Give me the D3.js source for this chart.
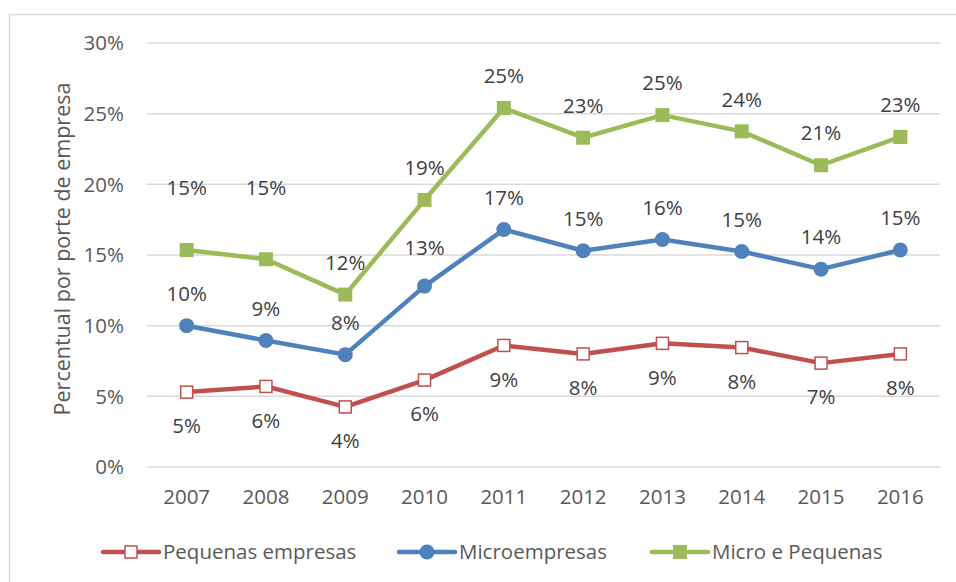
<!DOCTYPE html>
<html>
<head>
<meta charset="utf-8">
<script src="https://cdn.jsdelivr.net/npm/d3@7"></script>
<style>
  body { margin: 0; background: #fff; }
  text { font-family: "Open Sans", Lato, sans-serif; }
</style>
</head>
<body>
<div id="app"></div>
<script>
// years on the x axis
const years = ['2007', '2008', '2009', '2010', '2011', '2012', '2013', '2014', '2015', '2016']

// series values (percent)
const pequenas = [5.3, 5.7, 4.25, 6.15, 8.6, 8.0, 8.75, 8.45, 7.35, 8.0]
const micro = [10.0, 8.95, 7.95, 12.8, 16.8, 15.3, 16.1, 15.25, 14.0, 15.35]
const microPequenas = [15.35, 14.7, 12.2, 18.9, 25.4, 23.3, 24.9, 23.75, 21.35, 23.35]

// label text shown next to the points
const pequenasLabels = ['5%', '6%', '4%', '6%', '9%', '8%', '9%', '8%', '7%', '8%']
const microLabels = ['10%', '9%', '8%', '13%', '17%', '15%', '16%', '15%', '14%', '15%']
const microPequenasLabels = ['15%', '15%', '12%', '19%', '25%', '23%', '25%', '24%', '21%', '23%']

const yTicks = [0, 5, 10, 15, 20, 25, 30]

const seriesNames = ['Pequenas empresas', 'Microempresas', 'Micro e Pequenas']

function main() {
  const width = 956
  const height = 582
  const fs = 20.5

  const svg = d3.select('#app').append('svg')
    .attr('width', width)
    .attr('height', height)

  // chart frame (runs off the right and bottom edge)
  svg.append('rect')
    .attr('x', 9.5).attr('y', 14.5)
    .attr('width', 1000).attr('height', 1000)
    .attr('fill', 'none')
    .attr('stroke', '#d9d9d9')
    .attr('stroke-width', 1.5)

  const x = d3.scaleBand()
    .domain(years)
    .range([147, 940])

  const y = d3.scaleLinear()
    .domain([0, 30])
    .range([467, 43])

  // gridlines
  svg.append('g').selectAll('line').data(yTicks).join('line')
    .attr('x1', 147).attr('x2', 940)
    .attr('y1', (d) => y(d)).attr('y2', (d) => y(d))
    .attr('stroke', '#d9d9d9')
    .attr('stroke-width', 1.5)

  // y tick labels
  svg.append('g').selectAll('text').data(yTicks).join('text')
    .attr('x', 124)
    .attr('y', (d) => y(d))
    .attr('dy', '0.35em')
    .attr('text-anchor', 'end')
    .attr('font-size', fs)
    .attr('fill', '#595959')
    .text((d) => d + '%')

  // x tick labels
  svg.append('g').selectAll('text').data(years).join('text')
    .attr('x', (d) => x(d) + x.bandwidth() / 2)
    .attr('y', 497)
    .attr('dy', '0.35em')
    .attr('text-anchor', 'middle')
    .attr('font-size', fs)
    .attr('fill', '#595959')
    .text((d) => d)

  // y axis title
  svg.append('text')
    .attr('transform', 'translate(62,249) rotate(-90)')
    .attr('dy', '0.35em')
    .attr('text-anchor', 'middle')
    .attr('font-size', 21.5)
    .attr('fill', '#595959')
    .text('Percentual por porte de empresa')

  const cx = (i) => x(years[i]) + x.bandwidth() / 2
  const line = d3.line()
    .x((d, i) => cx(i))
    .y((d) => y(d))

  const series = [
    { name: seriesNames[0], values: pequenas, labels: pequenasLabels, color: '#c0504d', marker: 'hollow', labelDy: 34, moved: {} },
    { name: seriesNames[1], values: micro, labels: microLabels, color: '#4f81bd', marker: 'circle', labelDy: -32, moved: { 3: -38 } },
    { name: seriesNames[2], values: microPequenas, labels: microPequenasLabels, color: '#9bbb59', marker: 'square', labelDy: -32, moved: { 0: -62, 1: -71 } }
  ]

  function drawMarker(g, kind, color) {
    if (kind === 'circle') {
      g.append('circle').attr('r', 7.5).attr('fill', color)
    } else if (kind === 'square') {
      g.append('rect').attr('x', -7).attr('y', -7).attr('width', 14).attr('height', 14).attr('fill', color)
    } else {
      g.append('rect').attr('x', -6).attr('y', -6).attr('width', 12).attr('height', 12)
        .attr('fill', '#fff').attr('stroke', color).attr('stroke-width', 1.5)
    }
  }

  series.forEach((s) => {
    svg.append('path')
      .datum(s.values)
      .attr('d', line)
      .attr('fill', 'none')
      .attr('stroke', s.color)
      .attr('stroke-width', 4.5)
      .attr('stroke-linejoin', 'round')

    s.values.forEach((v, i) => {
      const g = svg.append('g').attr('transform', `translate(${cx(i)},${y(v)})`)
      drawMarker(g, s.marker, s.color)
    })

    svg.append('g').selectAll('text').data(s.values).join('text')
      .attr('x', (d, i) => cx(i))
      .attr('y', (d, i) => y(d) + (s.moved[i] !== undefined ? s.moved[i] : s.labelDy))
      .attr('dy', '0.35em')
      .attr('text-anchor', 'middle')
      .attr('font-size', fs)
      .attr('fill', '#404040')
      .text((d, i) => s.labels[i])
  })

  // legend
  const legendX = [103, 399, 652]
  series.forEach((s, i) => {
    const g = svg.append('g').attr('transform', `translate(${legendX[i]},552)`)
    g.append('line')
      .attr('x1', 0).attr('x2', 56)
      .attr('stroke', s.color)
      .attr('stroke-width', 4.5)
      .attr('stroke-linecap', 'round')
    const m = g.append('g').attr('transform', 'translate(28,0)')
    drawMarker(m, s.marker, s.color)
    g.append('text')
      .attr('x', 60)
      .attr('dy', '0.35em')
      .attr('font-size', fs)
      .attr('fill', '#595959')
      .text(s.name)
  })
}

main()
</script>
</body>
</html>
